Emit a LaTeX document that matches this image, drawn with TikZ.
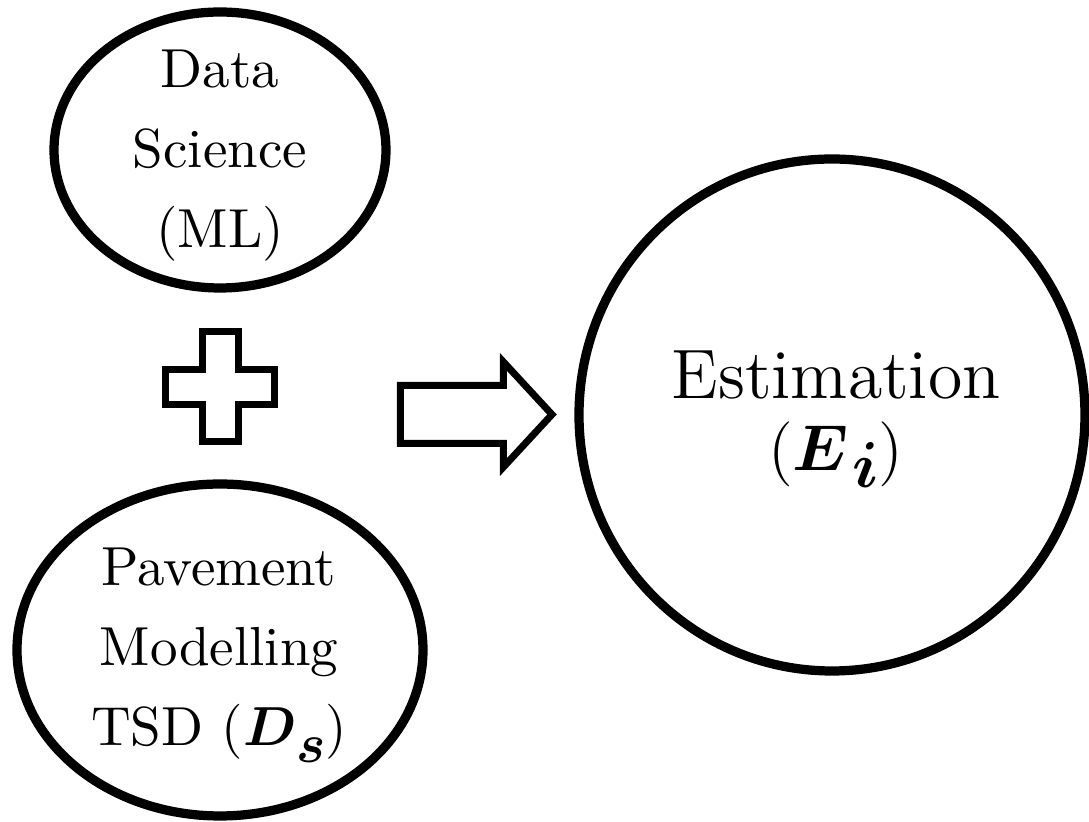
\RequirePackage{fix-cm}
\documentclass[tikz,border=0pt]{standalone}
\usepackage{amsmath}
\usetikzlibrary{shapes.geometric}
\begin{document}
% 1 unit = 1 reference pixel = 10/55 pt
\begin{tikzpicture}[x=0.181818pt,y=-0.181818pt,
  blob/.style={draw=black, ellipse, line width=1.68pt, inner sep=0pt},
  lbl/.style={align=center, inner sep=0pt, font=\fontsize{10pt}{14.545pt}\selectfont},
  biglbl/.style={align=center, inner sep=0pt, font=\fontsize{12.727pt}{13.09pt}\selectfont},
  sym/.style={draw=black, line width=1.273pt, miter limit=10, line join=miter}]
\useasboundingbox (0,0) rectangle (1089,822);
% ellipses
\node[blob, minimum width=60.36pt, minimum height=50.18pt] (ds) at (220,150) {};
\node[blob, minimum width=73.82pt, minimum height=60.36pt] (pm) at (220,650) {};
\node[blob, minimum width=92pt, minimum height=93.09pt] (est) at (832,415) {};
% texts
\node[lbl] (dstext) at (220,156) {Data\\Science\\(ML)};
\node[lbl] (pmtext) at (219,655) {Pavement\\Modelling\\TSD ($\boldsymbol{D}$\lower3pt\hbox{$\boldsymbol{s}$})};
\node[biglbl] (esttext) at (836,419) {Estimation\\{\fontsize{11.8pt}{13.09pt}\selectfont($\boldsymbol{E}\mkern1mu$\lower3pt\hbox{$\boldsymbol{i}$})}};
% plus sign
\draw[sym] (202.5,331.5) -- (238.5,331.5) -- (238.5,369.5) -- (274.5,369.5)
  -- (274.5,404.5) -- (238.5,404.5) -- (238.5,441.5) -- (202.5,441.5)
  -- (202.5,404.5) -- (165.5,404.5) -- (165.5,369.5) -- (202.5,369.5) -- cycle;
% block arrow
\draw[sym] (400.5,385.5) -- (503.5,385.5) -- (503.5,362) -- (552,414.5)
  -- (503.5,467) -- (503.5,443.5) -- (400.5,443.5) -- cycle;
\end{tikzpicture}
\end{document}
